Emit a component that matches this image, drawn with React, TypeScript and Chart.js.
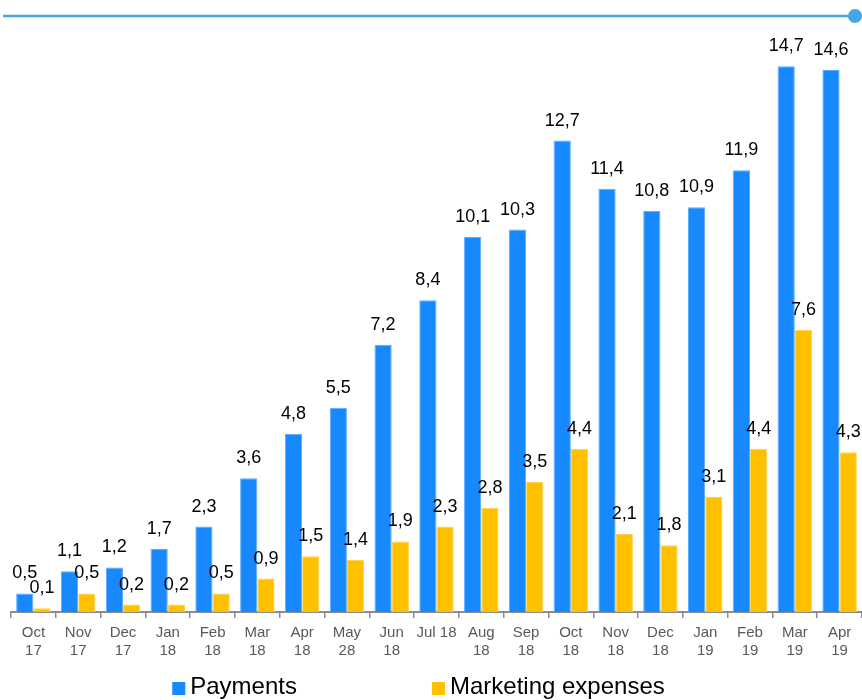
import React, { useEffect, useRef } from "react";
import { Chart, registerables } from "chart.js";

Chart.register(...registerables);

const categories: string[][] = [
  ["Oct", "17"], ["Nov", "17"], ["Dec", "17"], ["Jan", "18"], ["Feb", "18"],
  ["Mar", "18"], ["Apr", "18"], ["May", "28"], ["Jun", "18"], ["Jul 18"],
  ["Aug", "18"], ["Sep", "18"], ["Oct", "18"], ["Nov", "18"], ["Dec", "18"],
  ["Jan", "19"], ["Feb", "19"], ["Mar", "19"], ["Apr", "19"],
];

const payments: number[] = [0.5, 1.1, 1.2, 1.7, 2.3, 3.6, 4.8, 5.5, 7.2, 8.4, 10.1, 10.3, 12.7, 11.4, 10.8, 10.9, 11.9, 14.7, 14.6];
const marketing: number[] = [0.1, 0.5, 0.2, 0.2, 0.5, 0.9, 1.5, 1.4, 1.9, 2.3, 2.8, 3.5, 4.4, 2.1, 1.8, 3.1, 4.4, 7.6, 4.3];

const seriesNames = ["Payments", "Marketing expenses"];
const BLUE = "#1789FC";
const YELLOW = "#FFC000";
const FONT = "'Liberation Sans', Arial, sans-serif";

const fmt = (v: number) => v.toFixed(1).replace(".", ",");

const valueLabels = {
  id: "valueLabels",
  afterDatasetsDraw(chart: any) {
    const ctx = chart.ctx;
    ctx.save();
    ctx.font = `18px ${FONT}`;
    ctx.fillStyle = "#000";
    ctx.textAlign = "center";
    ctx.textBaseline = "alphabetic";
    chart.data.datasets.forEach((ds: any, i: number) => {
      const meta = chart.getDatasetMeta(i);
      meta.data.forEach((el: any, j: number) => {
        ctx.fillText(fmt(ds.data[j]), el.x, el.y - 15);
      });
    });
    ctx.restore();
  },
};

const decor = {
  id: "decor",
  afterDraw(chart: any) {
    const ctx = chart.ctx;
    ctx.save();
    // top rule with dot
    ctx.strokeStyle = "#45A6E6";
    ctx.lineWidth = 2.5;
    ctx.beginPath();
    ctx.moveTo(3, 16);
    ctx.lineTo(852, 16);
    ctx.stroke();
    ctx.fillStyle = "#45A6E6";
    ctx.beginPath();
    ctx.arc(855, 16, 7, 0, Math.PI * 2);
    ctx.fill();

    // legend
    ctx.font = `24px ${FONT}`;
    ctx.textBaseline = "alphabetic";
    ctx.textAlign = "left";
    const colors = [BLUE, YELLOW];
    const box = 13;
    const gapBox = 5;
    const itemGap = 135;
    const widths = seriesNames.map((n) => box + gapBox + ctx.measureText(n).width);
    const total = widths.reduce((a, b) => a + b, 0) + itemGap * (widths.length - 1);
    let x = (chart.chartArea.left + chart.chartArea.right) / 2 - total / 2 - 18;
    const baseY = 694;
    seriesNames.forEach((n, i) => {
      ctx.fillStyle = colors[i];
      ctx.fillRect(x, baseY - 12, box, box);
      ctx.fillStyle = "#000";
      ctx.fillText(n, x + box + gapBox, baseY);
      x += widths[i] + itemGap;
    });
    ctx.restore();
  },
};

export default function App() {
  const ref = useRef<HTMLCanvasElement | null>(null);
  useEffect(() => {
    if (!ref.current) return;
    const chart = new Chart(ref.current, {
      type: "bar",
      data: {
        labels: categories,
        datasets: [
          { label: seriesNames[0], data: payments, backgroundColor: BLUE, borderColor: "#5AAEFF", borderWidth: 1 },
          { label: seriesNames[1], data: marketing, backgroundColor: YELLOW, borderColor: "#FFD24D", borderWidth: 1 },
        ],
      },
      options: {
        animation: false,
        responsive: false,
        devicePixelRatio: 1,
        layout: { padding: { top: 18, left: 11, right: 0, bottom: 34 } },
        datasets: { bar: { categoryPercentage: 0.77, barPercentage: 1 } },
        plugins: { legend: { display: false }, tooltip: { enabled: false } },
        scales: {
          x: {
            grid: { display: true, drawOnChartArea: false, offset: true, tickLength: 6, color: "#8c8c8c", lineWidth: 1.5 },
            border: { display: true, color: "#8c8c8c", width: 2 },
            ticks: { font: { size: 15, family: FONT, lineHeight: 1.2 }, color: "#595959", padding: 6, maxRotation: 0, autoSkip: false },
          },
          y: { display: false, min: 0, max: 16 },
        },
      },
      plugins: [valueLabels, decor],
    });
    return () => chart.destroy();
  }, []);
  return (
    <div style={{ position: "absolute", left: 0, top: 0, width: 862, height: 700 }}>
      <canvas ref={ref} width={862} height={700} style={{ display: "block" }} />
    </div>
  );
}
